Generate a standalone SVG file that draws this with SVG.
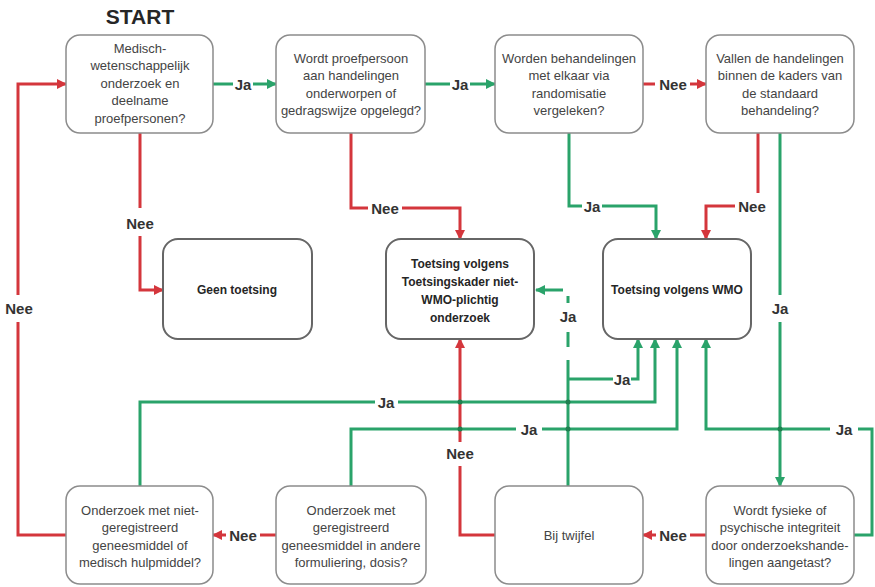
<svg xmlns="http://www.w3.org/2000/svg" width="875" height="587" viewBox="0 0 875 587">
<style>
.q{fill:#fff;stroke:#8c8c8c;stroke-width:1.5}
.m{fill:#fff;stroke:#666;stroke-width:2}
.t{font-family:"Liberation Sans",Arial,sans-serif;font-size:13px;fill:#444;text-anchor:middle}
.b{font-family:"Liberation Sans",Arial,sans-serif;font-size:12px;font-weight:bold;fill:#262626;text-anchor:middle}
.l{font-family:"Liberation Sans",Arial,sans-serif;font-size:15px;font-weight:bold;fill:#333;text-anchor:middle}
.r{fill:none;stroke:#d4363c;stroke-width:3}
.g{fill:none;stroke:#2aa36a;stroke-width:3}
.ra{marker-end:url(#ar)}
.ga{marker-end:url(#ag)}
</style>
<defs>
<marker id="ar" viewBox="0 0 10 10" refX="9" refY="5" markerWidth="10" markerHeight="10" markerUnits="userSpaceOnUse" orient="auto"><path d="M0,0 L10,5 L0,10 z" fill="#d4363c"/></marker>
<marker id="ag" viewBox="0 0 10 10" refX="9" refY="5" markerWidth="10" markerHeight="10" markerUnits="userSpaceOnUse" orient="auto"><path d="M0,0 L10,5 L0,10 z" fill="#2aa36a"/></marker>
</defs>
<rect width="875" height="587" fill="#fff"/>
<text x="140" y="24" font-family="Liberation Sans,Arial,sans-serif" font-size="21" font-weight="bold" fill="#262626" text-anchor="middle">START</text>

<g id="connectors">
<path class="g ga" d="M213,84 H233 M253,84 H276"/>
<path class="g ga" d="M425,84 H450 M470,84 H495"/>
<path class="r ra" d="M643,84 H655 M690,84 H706"/>
<path class="r ra" d="M140,133 V208 M140,236 V290 H163"/>
<path class="r ra" d="M351,133 V208 H368 M402,208 H460 V239"/>
<path class="g ga" d="M569,133 V206 H582 M602,206 H656 V239"/>
<path class="r" d="M758,133 V193"/>
<path class="r ra" d="M735,206 H706 V239"/>
<path class="g ga" d="M780,133 V295 M780,322 V486"/>
<path class="g ga" d="M854,535 H872 V429 H858 M830,429 H706 V339"/>
<path class="g ga" d="M351,486 V429 H516 M542,429 H677 V339"/>
<path class="g ga" d="M140,486 V402 H375 M398,402 H655 V339"/>
<path class="g ga" d="M568,486 V360 M568,379 H613 M631,379 H638 V339"/>
<path class="g" d="M568,347 V332 M568,303 V296"/>
<path class="g ga" d="M563,290 H536"/>
<path class="r ra" d="M495,535 H460 V466 M460,442 V339"/>
<path class="r ra" d="M706,535 H690 M656,535 H643"/>
<path class="r ra" d="M276,535 H260 M226,535 H213"/>
<path class="r ra" d="M66,535 H18 V322 M18,295 V84 H66"/>
<g fill="#1f8050">
<circle cx="460" cy="402" r="2.5"/><circle cx="460" cy="429" r="2.5"/>
<circle cx="568" cy="402" r="2.5"/><circle cx="568" cy="429" r="2.5"/>
<circle cx="780" cy="429" r="2.5"/>
</g>
<text class="l" x="243" y="89.5">Ja</text>
<text class="l" x="460" y="89.5">Ja</text>
<text class="l" x="673" y="89.5">Nee</text>
<text class="l" x="140" y="229">Nee</text>
<text class="l" x="385" y="213.5">Nee</text>
<text class="l" x="592" y="211.5">Ja</text>
<text class="l" x="752" y="211.5">Nee</text>
<text class="l" x="780" y="314">Ja</text>
<text class="l" x="844" y="434.5">Ja</text>
<text class="l" x="529" y="434.5">Ja</text>
<text class="l" x="386" y="407.5">Ja</text>
<text class="l" x="622" y="384.5">Ja</text>
<text class="l" x="568" y="322">Ja</text>
<text class="l" x="460" y="459">Nee</text>
<text class="l" x="673" y="540.5">Nee</text>
<text class="l" x="243" y="540.5">Nee</text>
<text class="l" x="19" y="314">Nee</text>
</g>

<g id="n1"><rect class="q" x="66" y="35" width="147" height="98" rx="14"/>
<text class="t" x="140"><tspan x="140" y="52.5">Medisch-</tspan><tspan x="140" y="70">wetenschappelijk</tspan><tspan x="140" y="87.5">onderzoek en</tspan><tspan x="140" y="105">deelname</tspan><tspan x="140" y="122.5">proefpersonen?</tspan></text></g>
<g id="n2"><rect class="q" x="276" y="35" width="149" height="98" rx="14"/>
<text class="t"><tspan x="351" y="62.5">Wordt proefpersoon</tspan><tspan x="351" y="80">aan handelingen</tspan><tspan x="351" y="97.5">onderworpen of</tspan><tspan x="351" y="115">gedragswijze opgelegd?</tspan></text></g>
<g id="n3"><rect class="q" x="495" y="35" width="148" height="98" rx="14"/>
<text class="t"><tspan x="569" y="62.5">Worden behandelingen</tspan><tspan x="569" y="80">met elkaar via</tspan><tspan x="569" y="97.5">randomisatie</tspan><tspan x="569" y="115">vergeleken?</tspan></text></g>
<g id="n4"><rect class="q" x="706" y="35" width="148" height="98" rx="14"/>
<text class="t"><tspan x="780" y="62.5">Vallen de handelingen</tspan><tspan x="780" y="80">binnen de kaders van</tspan><tspan x="780" y="97.5">de standaard</tspan><tspan x="780" y="115">behandeling?</tspan></text></g>

<g id="n5"><rect class="m" x="163" y="239" width="149" height="100" rx="15"/>
<text class="b" x="237" y="294">Geen toetsing</text></g>
<g id="n6"><rect class="m" x="386" y="239" width="148" height="100" rx="15"/>
<text class="b"><tspan x="460" y="267.5">Toetsing volgens</tspan><tspan x="460" y="285.5">Toetsingskader niet-</tspan><tspan x="460" y="303.5">WMO-plichtig</tspan><tspan x="460" y="321.5">onderzoek</tspan></text></g>
<g id="n7"><rect class="m" x="603" y="239" width="148" height="100" rx="15"/>
<text class="b" x="677" y="294">Toetsing volgens WMO</text></g>

<g id="n8"><rect class="q" x="66" y="486" width="147" height="98" rx="14"/>
<text class="t"><tspan x="140" y="514.5">Onderzoek met niet-</tspan><tspan x="140" y="532">geregistreerd</tspan><tspan x="140" y="549.5">geneesmiddel of</tspan><tspan x="140" y="567">medisch hulpmiddel?</tspan></text></g>
<g id="n9"><rect class="q" x="276" y="486" width="150" height="98" rx="14"/>
<text class="t"><tspan x="351" y="514.5">Onderzoek met</tspan><tspan x="351" y="532">geregistreerd</tspan><tspan x="351" y="549.5">geneesmiddel in andere</tspan><tspan x="351" y="567">formuliering, dosis?</tspan></text></g>
<g id="n10"><rect class="q" x="495" y="486" width="148" height="98" rx="14"/>
<text class="t" x="569" y="539.5">Bij twijfel</text></g>
<g id="n11"><rect class="q" x="706" y="486" width="148" height="98" rx="14"/>
<text class="t"><tspan x="780" y="514.5">Wordt fysieke of</tspan><tspan x="780" y="532">psychische integriteit</tspan><tspan x="780" y="549.5">door onderzoekshande-</tspan><tspan x="780" y="567">lingen aangetast?</tspan></text></g>
</svg>
